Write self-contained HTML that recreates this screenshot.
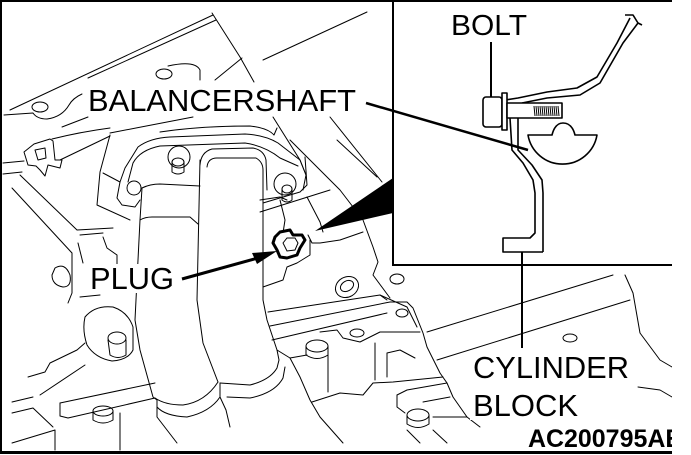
<!DOCTYPE html>
<html><head><meta charset="utf-8"><style>
html,body{margin:0;padding:0;background:#fff;}
svg{display:block;}
text{font-family:"Liberation Sans",Arial,sans-serif;fill:#000;}
</style></head><body>
<svg width="691" height="455" viewBox="0 0 691 455" xmlns="http://www.w3.org/2000/svg">
<rect width="691" height="455" fill="#fff"/>

<!-- engine thin line work -->
<g fill="none" stroke="#000" stroke-width="1" stroke-linejoin="round" stroke-linecap="round">
<path d="M213,15 L10,110"/>
<path d="M216,20 L88,78"/>
<path d="M4,115 L33,113 Q37,119 47,119 Q62,117 69,105 Q73,98 82,94"/>
<ellipse cx="40" cy="107" rx="8" ry="5"/>
<path d="M212,13 L240,57 L254,82"/>
<path d="M242,58 L215,80"/>
<path d="M263,60 L367,12"/>
<ellipse cx="164" cy="74" rx="8" ry="5"/>
<path d="M168,66 Q195,60 200,70 L200,80"/>
<path d="M88,117 L62,127"/>
<path d="M193,117 L110,133"/>
<path d="M160,132 Q200,126 250,126 Q268,128 274,135 L277,128"/>
<path d="M273,117 L300,160 L306,175"/>
<path d="M330,117 L382,182"/>
<!-- hose + clamp -->
<path d="M52,139 Q80,132 110,128"/>
<path d="M60,160 Q85,148 110,136"/>
<path d="M24,152 L34,144 L50,139 L53,141 L55,160 L62,160 L60,168 L48,165 L45,176 L40,170 L36,166 L28,165 Z"/>
<path d="M35,150 L45,148 L46,158 L38,160 Z"/>
<path d="M3,163 L24,161"/>
<path d="M3,174 L22,172"/>
<path d="M110,135 L100,172 L97,205 L130,220"/>
<path d="M103,173 L120,182"/>
<path d="M20,175 L77,230 L113,228"/>
<path d="M12,188 L72,253 L72,293 L68,303"/>
<path d="M80,235 L103,233"/>
<path d="M78,243 L83,263"/>
<path d="M103,237 L107,248 L117,255 L117,267"/>
<path d="M55,268 Q65,262 70,275 Q72,287 63,287 Q52,285 52,275 Z"/>
<path d="M80,297 L100,295"/>
<!-- big boss lower-left -->
<path d="M85,317 Q95,305 113,307 Q128,312 133,327 L133,350 Q128,360 112,361 Q95,358 87,345 Q82,330 85,317 Z"/>
<ellipse cx="117" cy="338" rx="9" ry="6"/>
<path d="M108,340 L110,355 Q118,360 126,355 L126,340"/>
<path d="M12,402 L33,397"/>
<path d="M28,377 L45,372 L50,363 L77,350 L85,343"/>
<path d="M12,413 L33,408 L53,427"/>
<path d="M12,443 L55,430 L55,450"/>
<path d="M120,413 L120,450"/>
<path d="M40,395 L85,365"/>
<path d="M60,403 L155,383"/>
<path d="M60,403 L60,416 L68,418 L155,398"/>
<ellipse cx="103" cy="411" rx="10" ry="5"/>
<path d="M93,411 L93,420 Q103,426 113,420 L113,411"/>
<!-- flange -->
<path d="M120,182 L125,168 L138,147 Q150,138 170,137 L245,134 Q265,135 278,143 L300,160 L306,175 L303,190"/>
<path d="M128,182 L133,163 Q140,150 160,146 L245,143 Q265,146 280,158 L298,166"/>
<path d="M120,182 L117,198 L122,205 L135,207 L140,200"/>
<circle cx="134" cy="188" r="7"/>
<circle cx="179" cy="157" r="11"/>
<ellipse cx="178" cy="162" rx="6" ry="4"/>
<path d="M172,162 L172,172 Q178,176 184,172 L184,162"/>
<circle cx="285" cy="184" r="11"/>
<ellipse cx="287" cy="189" rx="5" ry="4"/>
<path d="M282,189 L282,200 Q287,204 292,200 L292,189"/>
<!-- right pipe -->
<path d="M200,165 Q201,152 212,149 L253,148 Q264,150 266,160 L267,190"/>
<path d="M207,167 Q208,158 217,158 L256,158 Q263,162 263,170 L263,200"/>
<path d="M200,160 L197,300 L203,343 L218,382"/>
<path d="M263,200 L263,300 L267,320 L277,350 L279,360 L277,368 Q270,380 250,385 L220,383"/>
<path d="M227,397 L250,398 Q275,393 283,378 L285,367"/>
<!-- left pipe -->
<path d="M142,188 Q150,184 160,184 L200,186"/>
<path d="M140,220 Q145,217 152,217 L190,217 L198,224"/>
<path d="M142,188 L140,220 L135,320 L140,350 L153,397 L157,400"/>
<path d="M155,398 Q165,405 183,405 Q205,402 218,382"/>
<path d="M157,407 Q165,416 187,417 Q210,412 220,397 L220,383"/>
<path d="M157,400 L157,417 L177,443"/>
<path d="M220,397 L226,410 L230,427"/>
<path d="M277,350 L290,358 L300,377 L310,400 L320,417 L343,443"/>
<!-- flange right side / plug surroundings -->
<path d="M263,203 L300,192 L307,185 L305,157"/>
<path d="M260,200 L280,197 L287,200"/>
<path d="M260,212 L330,190"/>
<path d="M307,197 L320,222 L323,232"/>
<path d="M280,200 L285,220 L283,233"/>
<path d="M337,140 L377,177"/>
<path d="M290,140 L340,190 L363,220 L373,247 L378,262 L373,275 L390,298"/>
<path d="M308,235 L312,243 L320,243 L340,240 L363,232"/>
<path d="M310,240 L310,255 L297,263 L287,267 L283,280 L263,287"/>
<path d="M268,312 L380,295 L387,300"/>
<path d="M270,326 L390,302 L407,302 L413,308 L423,333 L427,347 L440,373 L447,383 L453,397 L467,417 L480,427"/>
<path d="M272,340 L387,313"/>
<ellipse cx="347" cy="287" rx="12" ry="10" transform="rotate(-30 347 287)"/>
<ellipse cx="347" cy="286" rx="7" ry="5" transform="rotate(-30 347 286)"/>
<ellipse cx="397" cy="279" rx="7" ry="5"/>
<ellipse cx="402" cy="313" rx="6" ry="4"/>
<path d="M320,332 L337,330 L343,338 L360,342 L380,332 L420,332"/>
<ellipse cx="357" cy="333" rx="7" ry="4"/>
<ellipse cx="317" cy="346" rx="11" ry="6"/>
<path d="M306,346 L306,355 Q317,362 328,355 L328,346"/>
<path d="M290,358 L307,355"/>
<path d="M328,353 L328,392"/>
<path d="M375,343 L375,380"/>
<path d="M387,377 L387,353 L400,350 L415,358"/>
<path d="M312,402 L340,393 L363,395 L373,383 L393,382 L443,377"/>
<path d="M397,395 L407,390 L447,383"/>
<path d="M397,395 L397,407 L405,413"/>
<path d="M423,402 L450,397"/>
<ellipse cx="418" cy="415" rx="11" ry="6"/>
<path d="M407,415 L407,424 Q418,431 429,424 L429,415"/>
<path d="M433,417 L467,417"/>
<path d="M407,430 L420,443"/>
<path d="M433,430 L447,443"/>
<!-- lower right area -->
<path d="M427,332 L613,275"/>
<path d="M437,360 L630,300"/>
<path d="M625,275 L633,293 L640,333 L660,360 L672,367"/>
<ellipse cx="570" cy="338" rx="7" ry="4"/>
<path d="M638,387 L660,390 L672,397"/>
<path d="M380,295 L407,307 L417,327"/>
</g>

<!-- inset box -->
<rect x="392" y="0" width="2" height="266" fill="#000"/>
<rect x="392" y="264" width="280" height="2" fill="#000"/>
<polygon points="315,231 393,178 393,213" fill="#000"/>

<!-- inset drawing -->
<g fill="none" stroke="#000" stroke-width="1.6" stroke-linejoin="round">
<path d="M505,100 L518,98 L547,92 L577,88 L597,77 L617,43 L630,18"/>
<path d="M522,103 L547,98 L580,95 L600,83 L623,43 L638,23"/>
<path d="M625,15 L633,15 L638,23 L642,25"/>
<path d="M510,118 L512,150 L523,163 L533,180 L535,193 L535,233 L530,238 L503,238 L503,252 L543,252"/>
<path d="M518,118 L518,150 L532,165 L542,180 L543,193 L543,252"/>
<path d="M528,135 L552,135 Q555,123 563,123 Q572,123 575,135 L597,135 A35,35 0 0 1 528,135 Z" fill="#fff"/>
<rect x="483" y="97" width="19" height="30" rx="3" fill="#fff"/>
<rect x="502" y="93" width="5" height="37" fill="#fff"/>
<rect x="507" y="103" width="55" height="15" fill="#fff"/>
</g>
<g stroke="#000" stroke-width="1">
<path d="M534,106 L535,116 M536,106 L537,116 M538,106 L539,116 M540,106 L541,116 M542,106 L543,116 M544,106 L545,116 M546,106 L547,116 M548,106 L549,116 M550,106 L551,116 M552,106 L553,116 M554,106 L555,116 M556,106 L557,116 M558,106 L559,116"/>
</g>

<!-- leader lines -->
<g stroke="#000" fill="none">
<path d="M491,42 L491,97" stroke-width="2"/>
<path d="M522,252 L522,348" stroke-width="2"/>
<path d="M366,103 L528,150" stroke-width="2.5"/>
<path d="M182,279 L258,258" stroke-width="3"/>
</g>
<polygon points="277,251 252,253 257,264" fill="#000"/>

<!-- plug -->
<path d="M275,237 L280,232 L290,230 L293,235 L302,235 L305,240 L300,248 L297,255 L287,258 L280,257 L277,250 L273,243 Z" fill="#fff" stroke="#000" stroke-width="3" stroke-linejoin="round"/>
<path d="M283,243 L287,238 L295,238 L298,243 L295,250 L287,251 Z" fill="none" stroke="#000" stroke-width="1"/>

<!-- label knockouts -->
<g fill="#fff">
<rect x="86" y="85" width="276" height="30"/>
<rect x="88" y="264" width="90" height="29"/>
<rect x="470" y="354" width="162" height="66"/>
<rect x="526" y="428" width="146" height="22"/>
<rect x="449" y="12" width="82" height="26"/>
</g>

<!-- labels -->
<text x="88" y="111" font-size="31" textLength="268" lengthAdjust="spacingAndGlyphs">BALANCERSHAFT</text>
<text x="451" y="35" font-size="29" textLength="76" lengthAdjust="spacingAndGlyphs">BOLT</text>
<text x="90" y="289" font-size="31" textLength="84" lengthAdjust="spacingAndGlyphs">PLUG</text>
<text x="473" y="378" font-size="31" textLength="156" lengthAdjust="spacingAndGlyphs">CYLINDER</text>
<text x="473" y="416" font-size="31">BLOCK</text>
<text x="528" y="447" font-size="25" font-weight="bold" textLength="154" lengthAdjust="spacingAndGlyphs">AC200795AE</text>

<!-- outer frame -->
<rect x="0" y="0" width="672" height="2" fill="#000"/>
<rect x="0" y="0" width="2" height="454" fill="#000"/>
<rect x="0" y="451" width="672" height="3" fill="#000"/>
<!-- right blank margin -->
<rect x="672" y="0" width="19" height="455" fill="#fff"/>
</svg>
</body></html>
